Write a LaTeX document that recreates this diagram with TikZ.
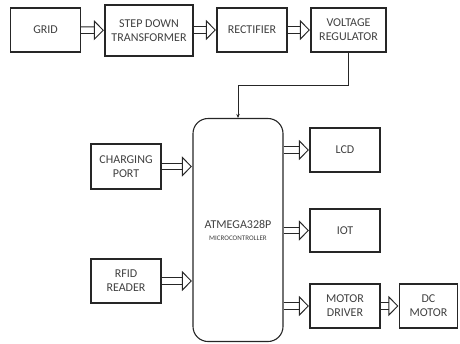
\documentclass[tikz,border=0pt]{standalone}
\usepackage{fontspec}
\setmainfont{Carlito}
\usetikzlibrary{arrows.meta, positioning}

\begin{document}
\begin{tikzpicture}[
    x=1pt, y=-1pt,
    box/.style={rectangle, draw=black!85, line width=1.1pt, minimum height=44pt, minimum width=70pt, align=center, font=\fontsize{12}{14}\selectfont, text=black!75, inner sep=1pt},
    feed/.style={double, double distance=5.5pt, line width=1pt, draw=black!85, -{Triangle[open, length=10pt, width=20pt, line width=1pt]}, shorten >=0.5pt}
]
    \useasboundingbox (0,0) rectangle (460,343);

    % Supply chain
    \node[box] (grid) at (45.5,30) {GRID};
    \node[box, minimum width=88pt, minimum height=51pt] (sdt) at (149,30.5) {STEP DOWN\\TRANSFORMER};
    \node[box] (rect) at (252,30) {RECTIFIER};
    \node[box, minimum width=75pt] (vreg) at (348.5,30) {VOLTAGE\\REGULATOR};

    % Microcontroller
    \node[box, rounded corners=15pt, minimum width=90pt, minimum height=223pt] (mcu) at (238,230) {ATMEGA328P\\[-2pt]{\fontsize{7}{8}\selectfont MICROCONTROLLER}};

    % Inputs
    \node[box, minimum height=45pt] (chg) at (126,166.5) {CHARGING\\PORT};
    \node[box] (rfid) at (126,281) {RFID\\READER};

    % Outputs
    \node[box] (lcd) at (345,150) {LCD};
    \node[box, minimum height=43pt] (iot) at (345,230.5) {IOT};
    \node[box] (mdrv) at (345,306) {MOTOR\\DRIVER};
    \node[box, minimum width=58pt] (dcm) at (428.5,306) {DC\\MOTOR};

    % Connections
    \draw[feed] (grid) -- (sdt);
    \draw[feed] (sdt.east |- rect) -- (rect);
    \draw[feed] (rect) -- (vreg);
    \coordinate (bend) at (238,85);
    \draw[line width=0.9pt, draw=black!85, -{Stealth[length=4pt, width=3.5pt]}] (vreg.south) |- (bend) -- (mcu.north);
    \draw[feed] (chg.east) -- (chg.east -| mcu.west);
    \draw[feed] (rfid.east) -- (rfid.east -| mcu.west);
    \draw[feed] (mcu.east |- lcd) -- (lcd.west);
    \draw[feed] (mcu.east |- iot) -- (iot.west);
    \draw[feed] (mcu.east |- mdrv) -- (mdrv.west);
    \draw[feed] (mdrv) -- (dcm);
\end{tikzpicture}
\end{document}
